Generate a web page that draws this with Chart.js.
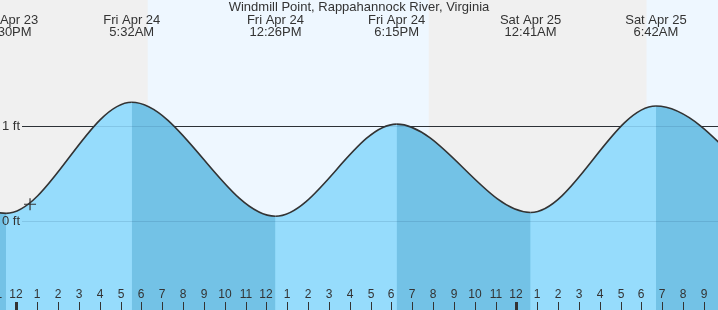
<!DOCTYPE html>
<html>
<head>
<meta charset="utf-8">
<script src="https://cdn.jsdelivr.net/npm/chart.js@4/dist/chart.umd.min.js"></script>
<style>
html, body { margin: 0; padding: 0; background: #fff; }
#wrap { position: relative; width: 718px; height: 310px; }
</style>
</head>
<body>
<div id="wrap"><canvas id="tide-chart"></canvas></div>
<script>
var chartTitle = 'Windmill Point, Rappahannock River, Virginia';

// tide turns, in hours from midnight Fri Apr 24 (first and last lie outside the view)
var tideHours = [-6.7, -0.5, 5.533, 12.433, 18.25, 24.683, 30.7, 37.2];
var tideFeet = [1.2, 0.08, 1.25, 0.05, 1.02, 0.09, 1.21, 0.06];

// labels above the visible turns
var turnHours = [-0.5, 5.533, 12.433, 18.25, 24.683, 30.7];
var turnDays = ['Thu Apr 23', 'Fri Apr 24', 'Fri Apr 24', 'Fri Apr 24', 'Sat Apr 25', 'Sat Apr 25'];
var turnTimes = ['11:30PM', '5:32AM', '12:26PM', '6:15PM', '12:41AM', '6:42AM'];

// daylight
var sunrise = [6.3, 30.25];
var sunset = [19.79, 44];

// current time marker
var nowHour = [0.65];
var nowFeet = [0.176];

// level lines
var levelFeet = [0, 1];
var levelLabels = ['0 ft', '1 ft'];

// hour ticks along the bottom
var firstTickHour = -1;
var hourLabels = ['11', '12', '1', '2', '3', '4', '5', '6', '7', '8', '9', '10', '11',
    '12', '1', '2', '3', '4', '5', '6', '7', '8', '9', '10', '11',
    '12', '1', '2', '3', '4', '5', '6', '7', '8', '9'];

var risingColor = 'rgb(150,220,252)';
var fallingColor = 'rgb(115,194,230)';
var fontFamily = '"Liberation Sans", Arial, sans-serif';

var tidePoints = tideHours.map(function (h, i) { return { x: h, y: tideFeet[i] }; });
var nowPoints = nowHour.map(function (h, i) { return { x: h, y: nowFeet[i] }; });

var tideDecor = {
    id: 'tideDecor',
    beforeDatasetsDraw: function (chart) {
        var ctx = chart.ctx, xs = chart.scales.x, ys = chart.scales.y, a = chart.chartArea;
        ctx.save();
        ctx.fillStyle = '#f0f0f0';
        ctx.fillRect(a.left, a.top, a.right - a.left, a.bottom - a.top);
        ctx.fillStyle = '#eef7ff';
        for (var i = 0; i < sunrise.length; i++) {
            var x0 = xs.getPixelForValue(sunrise[i]);
            var x1 = Math.min(xs.getPixelForValue(sunset[i]), a.right);
            ctx.fillRect(x0, a.top, x1 - x0, a.bottom - a.top);
        }
        ctx.strokeStyle = '#333';
        ctx.lineWidth = 1;
        levelFeet.forEach(function (v) {
            var py = Math.round(ys.getPixelForValue(v)) + 0.5;
            ctx.beginPath();
            ctx.moveTo(22, py);
            ctx.lineTo(a.right, py);
            ctx.stroke();
        });
        ctx.restore();
    },
    afterDatasetsDraw: function (chart) {
        var ctx = chart.ctx, xs = chart.scales.x, ys = chart.scales.y, a = chart.chartArea;
        ctx.save();
        // faint level lines over the water
        ctx.strokeStyle = 'rgba(0,40,80,0.12)';
        ctx.lineWidth = 1;
        levelFeet.forEach(function (v, i) {
            var py = Math.round(ys.getPixelForValue(v)) + 0.5;
            ctx.beginPath();
            ctx.moveTo(22, py);
            ctx.lineTo(a.right, py);
            ctx.stroke();
            ctx.fillStyle = '#333';
            ctx.font = '13px ' + fontFamily;
            ctx.textAlign = 'left';
            ctx.textBaseline = 'middle';
            ctx.fillText(levelLabels[i], 2, py);
        });

        // hour ticks
        ctx.fillStyle = '#333';
        ctx.font = '12px ' + fontFamily;
        ctx.textAlign = 'center';
        ctx.textBaseline = 'middle';
        hourLabels.forEach(function (lab, i) {
            var h = firstTickHour + i;
            var px = Math.round(xs.getPixelForValue(h));
            var w = (h % 24 === 0) ? 3 : 1;
            ctx.fillRect(px - Math.floor(w / 2), 302, w, 8);
            ctx.fillText(lab, px, 295);
        });

        // title and turn labels
        ctx.font = '13px ' + fontFamily;
        ctx.fillText(chartTitle, (a.left + a.right) / 2, 7);
        turnHours.forEach(function (h, i) {
            var px = xs.getPixelForValue(h);
            ctx.fillText(turnDays[i], px, 20);
            ctx.fillText(turnTimes[i], px, 32);
        });
        ctx.restore();
    }
};

var tideChart = new Chart(document.getElementById('tide-chart'), {
    type: 'line',
    data: {
        datasets: [
            {
                // whole water body in the rising colour
                data: tidePoints,
                borderWidth: 0,
                borderColor: 'rgba(0,0,0,0)',
                backgroundColor: risingColor,
                fill: 'start',
                cubicInterpolationMode: 'monotone',
                pointRadius: 0,
                order: 2
            },
            {
                // falling stretches on top, plus the curve
                data: tidePoints,
                borderColor: '#333',
                borderWidth: 1.6,
                backgroundColor: fallingColor,
                fill: 'start',
                cubicInterpolationMode: 'monotone',
                pointRadius: 0,
                order: 1,
                segment: {
                    backgroundColor: function (c) {
                        return c.p1.parsed.y > c.p0.parsed.y ? 'rgba(0,0,0,0)' : fallingColor;
                    }
                }
            },
            {
                data: nowPoints,
                showLine: false,
                pointStyle: 'cross',
                pointRadius: 6,
                borderColor: '#333',
                borderWidth: 1.2,
                fill: false,
                order: 0
            }
        ]
    },
    options: {
        responsive: true,
        maintainAspectRatio: false,
        animation: false,
        layout: { padding: 0, autoPadding: false },
        plugins: { legend: { display: false }, tooltip: { enabled: false } },
        scales: {
            x: { type: 'linear', display: false, min: -0.792, max: 33.68 },
            y: { type: 'linear', display: false, min: -0.937, max: 2.326 }
        }
    },
    plugins: [tideDecor]
});
</script>
</body>
</html>
